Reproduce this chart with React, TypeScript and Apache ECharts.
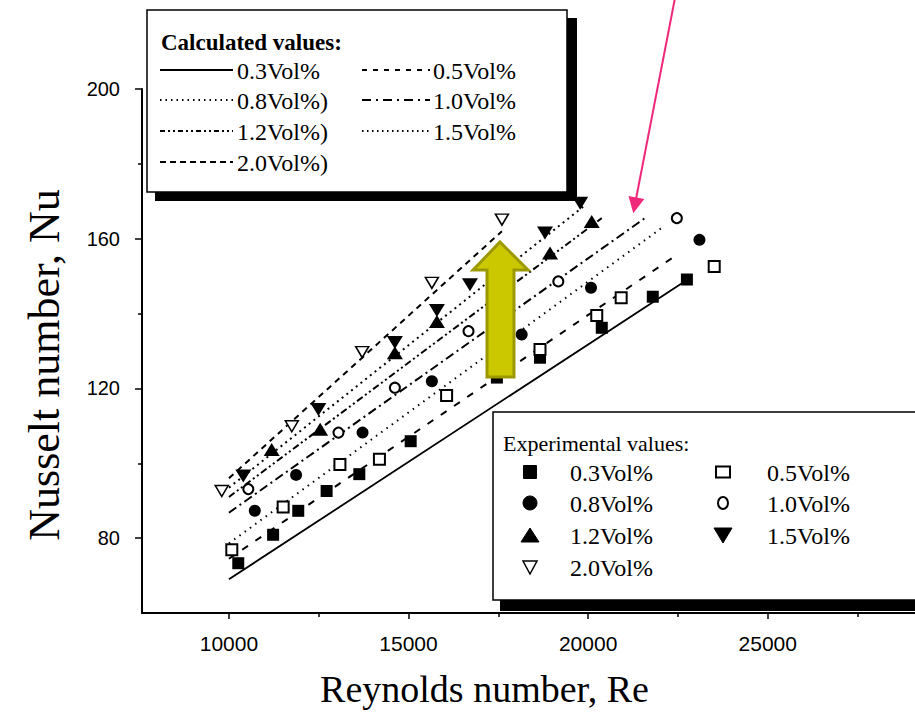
import React, { useEffect, useRef } from "react";
import * as echarts from "echarts";

// ---------- data ----------
const seriesNames = ["0.3Vol%", "0.5Vol%", "0.8Vol%", "1.0Vol%", "1.2Vol%", "1.5Vol%", "2.0Vol%"];
const calcLegendLabels = ["0.3Vol%", "0.5Vol%", "0.8Vol%)", "1.0Vol%", "1.2Vol%)", "1.5Vol%", "2.0Vol%)"];
const expLegendLabels = ["0.3Vol%", "0.5Vol%", "0.8Vol%", "1.0Vol%", "1.2Vol%", "1.5Vol%", "2.0Vol%"];

// experimental values (Re, Nu)
const re03 = [10260, 11230, 11930, 12720, 13630, 15060, 17460, 18660, 20380, 21800, 22750];
const nu03 = [73.3, 80.9, 87.3, 92.6, 97.1, 105.9, 122.9, 128.2, 136.2, 144.5, 149.1];
const re05 = [10080, 11510, 13090, 14190, 16060, 18660, 20240, 20920, 23510];
const nu05 = [76.9, 88.3, 99.7, 101.1, 118.1, 130.4, 139.5, 144.2, 152.6];
const re08 = [10720, 11870, 13720, 15650, 18150, 20080, 23100];
const nu08 = [87.3, 96.9, 108.2, 121.9, 134.4, 146.9, 159.7];
const re10 = [10540, 13050, 14620, 16670, 19170, 22470];
const nu10 = [93.1, 108.2, 120.2, 135.3, 148.6, 165.5];
const re12 = [11190, 12540, 14620, 15790, 18940, 20100];
const nu12 = [103.7, 109.1, 129.5, 137.9, 156.2, 164.6];
const re15 = [10400, 12490, 14620, 15790, 16710, 18800, 19780];
const nu15 = [96.6, 114.4, 132.3, 140.8, 147.7, 161.5, 169.5];
const re20 = [9800, 11750, 13710, 15650, 17600];
const nu20 = [92.6, 109.9, 129.7, 148.2, 165.1];

// calculated values: straight lines (start / end)
const calcStartRe = [10000, 10000, 10000, 10000, 10000, 10000, 10000];
const calcStartNu = [69, 74.5, 78.6, 86.8, 91, 93.5, 96];
const calcEndRe = [22750, 22470, 22050, 21640, 20380, 19870, 17600];
const calcEndNu = [149, 155.7, 162.9, 165.9, 165.5, 168.6, 162];

// axis ticks
const xTicks = [10000, 15000, 20000, 25000];
const xMinorTicks = [12500, 17500, 22500, 27500];
const yTicks = [80, 120, 160, 200];
const yMinorTicks = [100, 140, 180];

// ---------- styles ----------
const lineDashes: (number[] | null)[] = [null, [7, 9], [1.5, 5], [9, 4, 2, 4], [7, 3, 2, 3, 2, 3], [2, 4], [6, 5]];
const legendDashes: (number[] | null)[] = [null, [5, 6], [1.5, 4], [9, 5, 2, 5], [5, 3, 2, 3, 2, 3], [1.5, 3.5], [6, 4]];
type Sym = { symbol: string; size: number | number[]; rotate: number; filled: boolean };
const symbols: Sym[] = [
  { symbol: "rect", size: 12, rotate: 0, filled: true },
  { symbol: "rect", size: 11, rotate: 0, filled: false },
  { symbol: "circle", size: 12, rotate: 0, filled: true },
  { symbol: "circle", size: 10, rotate: 0, filled: false },
  { symbol: "triangle", size: [16, 13], rotate: 0, filled: true },
  { symbol: "triangle", size: [16, 13], rotate: 180, filled: true },
  { symbol: "triangle", size: [13, 11], rotate: 180, filled: false },
];

const SERIF = "'Liberation Serif', 'Times New Roman', serif";
const SANS = "'Liberation Sans', Arial, sans-serif";

function legendSymbol(i: number, cx: number, cy: number): any {
  const filled = symbols[i].filled;
  const style = filled
    ? { fill: "#000", stroke: "#000", lineWidth: 1 }
    : { fill: "#fff", stroke: "#000", lineWidth: 2 };
  if (i === 0 || i === 1) {
    const w = i === 0 ? 13 : 14;
    const h = i === 0 ? 13 : 11;
    return { type: "rect", shape: { x: cx - w / 2, y: cy - h / 2, width: w, height: h }, style };
  }
  if (i === 2) return { type: "circle", shape: { cx, cy, r: 7 }, style };
  if (i === 3) return { type: "ellipse", shape: { cx, cy, rx: 5, ry: 6 }, style };
  if (i === 4)
    return { type: "polygon", shape: { points: [[cx, cy - 7], [cx + 9, cy + 7], [cx - 9, cy + 7]] }, style };
  if (i === 5)
    return { type: "polygon", shape: { points: [[cx - 9, cy - 7], [cx + 9, cy - 7], [cx, cy + 8]] }, style };
  return {
    type: "polygon",
    shape: { points: [[cx - 7, cy - 6], [cx + 7, cy - 6], [cx, cy + 7]] },
    style: { fill: "#fff", stroke: "#000", lineWidth: 1.5 },
  };
}

export default function App() {
  const ref = useRef<HTMLDivElement>(null);

  useEffect(() => {
    if (!ref.current) return;
    const chart = echarts.init(ref.current, null, { renderer: "svg" });

    const expRe = [re03, re05, re08, re10, re12, re15, re20];
    const expNu = [nu03, nu05, nu08, nu10, nu12, nu15, nu20];

    const lineSeries = seriesNames.map((name, i) => ({
      name: "Calculated " + name,
      type: "line",
      xAxisIndex: 0,
      yAxisIndex: 0,
      symbol: "none",
      z: 2,
      data: [
        [calcStartRe[i], calcStartNu[i]],
        [calcEndRe[i], calcEndNu[i]],
      ],
      lineStyle: {
        color: "#000",
        width: i === 0 ? 1.8 : 2,
        type: lineDashes[i] ? lineDashes[i] : "solid",
      },
    }));

    const scatterSeries = seriesNames.map((name, i) => ({
      name: "Experimental " + name,
      type: "scatter",
      xAxisIndex: 0,
      yAxisIndex: 0,
      z: 3,
      symbol: symbols[i].symbol,
      symbolSize: symbols[i].size,
      symbolRotate: symbols[i].rotate,
      data: expRe[i].map((r, k) => [r, expNu[i][k]]),
      itemStyle: symbols[i].filled
        ? { color: "#000", opacity: 1 }
        : { color: "#fff", borderColor: "#000", borderWidth: i === 6 ? 1.5 : 2, opacity: 1 },
    }));

    // ---------- legends (graphic) ----------
    const g: any[] = [];
    // top legend box
    g.push({ type: "rect", z: 100, shape: { x: 155, y: 18, width: 422, height: 183 }, style: { fill: "#000" } });
    g.push({
      type: "rect",
      z: 101,
      shape: { x: 147, y: 10, width: 420, height: 182 },
      style: { fill: "#fff", stroke: "#000", lineWidth: 1.5 },
    });
    g.push({
      type: "text",
      z: 102,
      x: 161,
      y: 42,
      style: {
        text: "Calculated values:",
        font: `bold 23px ${SERIF}`,
        fill: "#000",
        verticalAlign: "middle",
      },
    });
    const calcRows = [70, 100, 131, 162];
    calcLegendLabels.forEach((lab, i) => {
      const col = i % 2;
      const row = Math.floor(i / 2);
      const cy = calcRows[row];
      const x0 = col === 0 ? 160 : 362;
      const x1 = col === 0 ? 233 : 430;
      const tx = col === 0 ? 237 : 433;
      g.push({
        type: "line",
        z: 102,
        shape: { x1: x0, y1: cy, x2: x1, y2: cy },
        style: { stroke: "#000", lineWidth: i === 0 ? 2 : 1.8, lineDash: legendDashes[i] || undefined },
      });
      g.push({
        type: "text",
        z: 102,
        x: tx,
        y: cy + 1,
        style: { text: lab, font: `24px ${SERIF}`, fill: "#000", verticalAlign: "middle" },
      });
    });

    // bottom legend box
    g.push({ type: "rect", z: 100, shape: { x: 500, y: 419, width: 430, height: 192 }, style: { fill: "#000" } });
    g.push({
      type: "rect",
      z: 101,
      shape: { x: 493, y: 412, width: 430, height: 188 },
      style: { fill: "#fff", stroke: "#000", lineWidth: 1.5 },
    });
    g.push({
      type: "text",
      z: 102,
      x: 503,
      y: 443,
      style: { text: "Experimental values:", font: `22px ${SERIF}`, fill: "#000", verticalAlign: "middle" },
    });
    const expRows = [472, 503, 535, 567];
    expLegendLabels.forEach((lab, i) => {
      const col = i % 2;
      const row = Math.floor(i / 2);
      const cy = expRows[row];
      const sx = col === 0 ? 530 : 723;
      const tx = col === 0 ? 570 : 767;
      const s = legendSymbol(i, sx, cy);
      s.z = 102;
      g.push(s);
      g.push({
        type: "text",
        z: 102,
        x: tx,
        y: cy + 1,
        style: { text: lab, font: `24px ${SERIF}`, fill: "#000", verticalAlign: "middle" },
      });
    });

    // yellow arrow
    g.push({
      type: "polygon",
      z: 90,
      shape: {
        points: [
          [500, 242],
          [528, 270],
          [514, 270],
          [514, 377],
          [487, 377],
          [487, 270],
          [473, 270],
        ],
      },
      style: { fill: "#cbc800", stroke: "#9c9900", lineWidth: 3, lineJoin: "miter" },
    });
    // pink arrow
    g.push({
      type: "line",
      z: 90,
      shape: { x1: 675, y1: -2, x2: 636, y2: 199 },
      style: { stroke: "#f0287a", lineWidth: 2 },
    });
    g.push({
      type: "polygon",
      z: 90,
      shape: { points: [[633.3, 213.3], [628.5, 196.1], [644.3, 199.1]] },
      style: { fill: "#f0287a" },
    });

    const axisLineStyle = { color: "#000", width: 2 };

    chart.setOption({
      animation: false,
      backgroundColor: "#fff",
      grid: { left: 142, right: 0, top: 89, bottom: 103 },
      xAxis: [
        {
          type: "value",
          min: 7580,
          max: 29100,
          position: "bottom",
          axisLine: { show: true, lineStyle: axisLineStyle },
          axisTick: { show: true, customValues: xTicks, length: 6, lineStyle: { color: "#000", width: 1.5 } },
          axisLabel: {
            customValues: xTicks,
            formatter: (v: number) => String(v),
            margin: 20,
            fontSize: 21,
            fontFamily: SANS,
            color: "#000",
          },
          splitLine: { show: false },
          name: "Reynolds number, Re",
          nameLocation: "middle",
          nameGap: 57,
          nameTextStyle: { fontFamily: SERIF, fontSize: 38, color: "#000", padding: [0, 88, 0, 0] },
        },
        {
          type: "value",
          min: 7580,
          max: 29100,
          position: "bottom",
          axisLine: { show: false },
          axisTick: { show: true, customValues: xMinorTicks, length: 4, lineStyle: { color: "#000", width: 1.5 } },
          axisLabel: { show: false },
          splitLine: { show: false },
        },
      ],
      yAxis: [
        {
          type: "value",
          min: 60,
          max: 200,
          position: "left",
          axisLine: { show: true, lineStyle: axisLineStyle },
          axisTick: { show: true, customValues: yTicks, length: 7, lineStyle: { color: "#000", width: 1.5 } },
          axisLabel: {
            customValues: yTicks,
            formatter: (v: number) => String(v),
            margin: 22,
            fontSize: 20,
            fontFamily: SANS,
            color: "#000",
          },
          splitLine: { show: false },
          name: "Nusselt number, Nu",
          nameLocation: "middle",
          nameGap: 76,
          nameTextStyle: { fontFamily: SERIF, fontSize: 44, color: "#000", padding: [0, 28, 0, 0] },
        },
        {
          type: "value",
          min: 60,
          max: 200,
          position: "left",
          axisLine: { show: false },
          axisTick: { show: true, customValues: yMinorTicks, length: 4, lineStyle: { color: "#000", width: 1.5 } },
          axisLabel: { show: false },
          splitLine: { show: false },
        },
      ],
      series: [...lineSeries, ...scatterSeries],
      graphic: g,
    } as any);

    return () => chart.dispose();
  }, []);

  return (
    <div
      ref={ref}
      style={{ position: "absolute", left: 0, top: 0, width: 915, height: 716, background: "#fff" }}
    />
  );
}
